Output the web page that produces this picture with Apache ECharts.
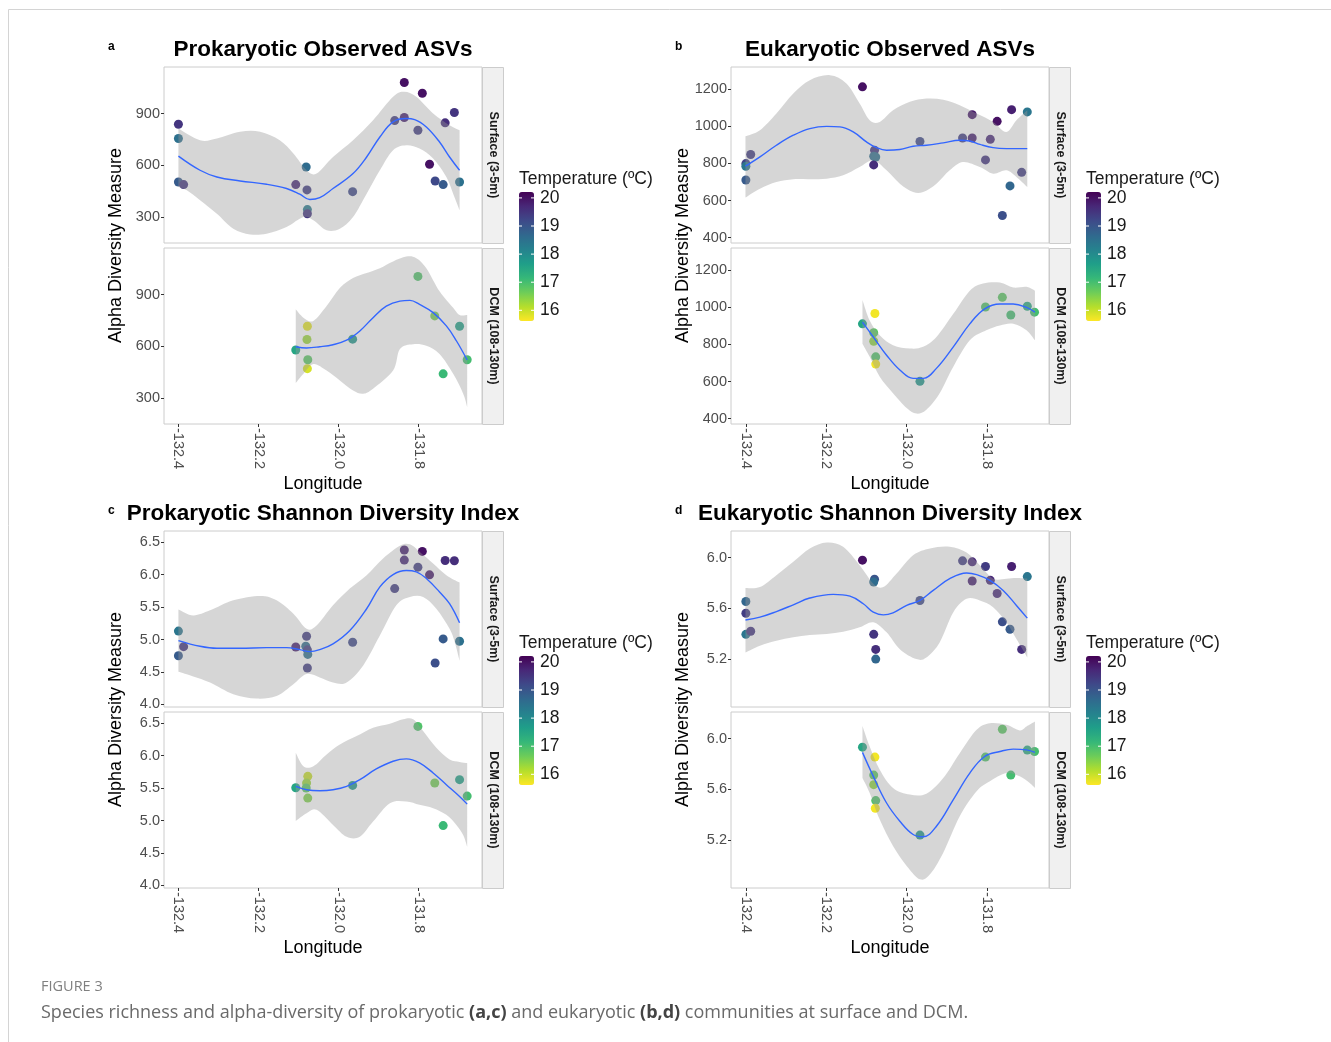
<!DOCTYPE html>
<html>
<head>
<meta charset="utf-8">
<title>Figure 3 - alpha diversity</title>
<script src="https://cdn.jsdelivr.net/npm/echarts@6/dist/echarts.min.js"></script>
<style>
  html, body { margin: 0; padding: 0; background: #fff; }
  #chart { width: 1331px; height: 1042px; }
</style>
</head>
<body>
<div id="chart"></div>
<script>
// ---- data ----
var lonTicks = [-132.4, -132.2, -132.0, -131.8];
var tempTicks = [20, 19, 18, 17, 16];
var facetNames = ['Surface (3-5m)', 'DCM (108-130m)'];

// a: prokaryotic observed ASVs
var aSurfLon = [-132.400, -132.400, -132.400, -132.387, -132.107, -132.081, -132.079, -132.078, -132.078, -131.965, -131.860, -131.836, -131.836, -131.802, -131.791, -131.773, -131.759, -131.739, -131.734, -131.711, -131.698];
var aSurfVal = [838, 755, 503, 488, 488, 590, 457, 343, 319, 447, 859, 1080, 877, 803, 1018, 606, 509, 488, 846, 906, 503];
var aSurfTemp = [19.5, 18.5, 18.9, 19.5, 19.7, 18.6, 19.4, 18.3, 19.5, 19.2, 19.4, 20.0, 19.8, 19.4, 20.0, 20.0, 19.2, 18.9, 19.6, 19.5, 18.5];
var aDcmLon = [-132.107, -132.078, -132.079, -132.077, -132.078, -131.965, -131.802, -131.760, -131.739, -131.698, -131.679];
var aDcmVal = [578, 716, 639, 522, 470, 641, 1005, 776, 440, 716, 522];
var aDcmTemp = [17.5, 15.8, 16.3, 16.8, 15.9, 17.8, 16.9, 16.6, 17.1, 17.6, 17.0];
var aSurfFit = [[-132.400, 653], [-132.346, 571], [-132.304, 532], [-132.246, 509], [-132.180, 490], [-132.130, 465], [-132.097, 432], [-132.072, 401], [-132.047, 412], [-132.014, 465], [-131.964, 552], [-131.930, 648], [-131.897, 764], [-131.864, 852], [-131.831, 871], [-131.810, 865], [-131.781, 822], [-131.748, 735], [-131.723, 648], [-131.698, 571]];
var aSurfHi = [[-132.400, 813], [-132.346, 745], [-132.304, 755], [-132.246, 794], [-132.196, 794], [-132.147, 745], [-132.113, 668], [-132.080, 571], [-132.055, 552], [-132.014, 648], [-131.964, 745], [-131.914, 861], [-131.864, 997], [-131.836, 1026], [-131.806, 997], [-131.764, 900], [-131.723, 832], [-131.698, 803]];
var aSurfLo = [[-132.400, 474], [-132.379, 455], [-132.346, 397], [-132.304, 319], [-132.263, 232], [-132.221, 199], [-132.180, 203], [-132.130, 242], [-132.088, 300], [-132.063, 281], [-132.030, 223], [-131.997, 232], [-131.964, 300], [-131.930, 435], [-131.897, 571], [-131.864, 687], [-131.831, 716], [-131.798, 697], [-131.764, 639], [-131.731, 532], [-131.714, 435], [-131.698, 339]];
var aDcmFit = [[-132.107, 597], [-132.080, 590], [-132.047, 597], [-132.014, 609], [-131.980, 635], [-131.947, 689], [-131.914, 766], [-131.881, 833], [-131.847, 862], [-131.822, 866], [-131.798, 843], [-131.764, 795], [-131.731, 718], [-131.706, 632], [-131.679, 520]];
var aDcmHi = [[-132.107, 814], [-132.088, 766], [-132.063, 747], [-132.030, 833], [-131.997, 938], [-131.964, 996], [-131.930, 1025], [-131.897, 1053], [-131.864, 1092], [-131.831, 1120], [-131.806, 1111], [-131.781, 1053], [-131.748, 919], [-131.714, 823], [-131.698, 781], [-131.679, 781]];
var aDcmLo = [[-132.107, 386], [-132.088, 440], [-132.063, 497], [-132.030, 459], [-131.997, 402], [-131.964, 344], [-131.939, 325], [-131.914, 354], [-131.864, 459], [-131.847, 584], [-131.814, 612], [-131.781, 603], [-131.748, 555], [-131.714, 440], [-131.689, 325], [-131.679, 248]];

// b: eukaryotic observed ASVs
var bSurfLon = [-132.400, -132.400, -132.400, -132.388, -132.110, -132.080, -132.082, -132.077, -132.082, -131.967, -131.861, -131.837, -131.837, -131.804, -131.792, -131.775, -131.762, -131.743, -131.739, -131.714, -131.700];
var bSurfVal = [799, 785, 711, 848, 1213, 871, 839, 835, 792, 918, 937, 1063, 937, 819, 930, 1027, 519, 679, 1090, 752, 1078];
var bSurfTemp = [19.3, 18.4, 18.9, 19.4, 20.0, 19.5, 18.6, 18.5, 19.6, 19.2, 19.4, 19.9, 19.8, 19.5, 19.7, 20.0, 19.1, 18.7, 19.8, 19.4, 18.4];
var bDcmLon = [-132.110, -132.079, -132.082, -132.082, -132.077, -132.077, -131.967, -131.804, -131.762, -131.741, -131.700, -131.682];
var bDcmVal = [911, 967, 863, 817, 733, 694, 601, 1002, 1054, 959, 1006, 974];
var bDcmTemp = [17.5, 15.7, 16.8, 16.4, 16.9, 15.7, 17.8, 16.9, 16.8, 17.0, 17.4, 17.0];
var bSurfFit = [[-132.401, 785], [-132.365, 835], [-132.324, 898], [-132.282, 952], [-132.241, 988], [-132.199, 1000], [-132.166, 997], [-132.133, 970], [-132.100, 916], [-132.075, 885], [-132.050, 871], [-132.017, 875], [-131.984, 893], [-131.951, 898], [-131.909, 911], [-131.868, 925], [-131.843, 921], [-131.818, 903], [-131.785, 885], [-131.752, 880], [-131.700, 880]];
var bSurfHi = [[-132.401, 946], [-132.365, 979], [-132.324, 1069], [-132.282, 1177], [-132.241, 1249], [-132.191, 1276], [-132.150, 1231], [-132.117, 1123], [-132.092, 1033], [-132.067, 1024], [-132.034, 1087], [-131.992, 1132], [-131.951, 1150], [-131.909, 1144], [-131.868, 1114], [-131.826, 1069], [-131.785, 1024], [-131.752, 970], [-131.727, 1033], [-131.700, 1087]];
var bSurfLo = [[-132.401, 616], [-132.365, 664], [-132.324, 700], [-132.282, 715], [-132.241, 715], [-132.199, 718], [-132.158, 736], [-132.117, 781], [-132.083, 817], [-132.050, 763], [-132.017, 691], [-131.984, 646], [-131.959, 646], [-131.926, 691], [-131.893, 763], [-131.860, 808], [-131.818, 781], [-131.785, 745], [-131.752, 763], [-131.727, 727], [-131.700, 673]];
var bDcmFit = [[-132.110, 920], [-132.083, 840], [-132.050, 742], [-132.017, 662], [-131.984, 617], [-131.959, 617], [-131.926, 671], [-131.884, 787], [-131.843, 911], [-131.806, 992], [-131.768, 1018], [-131.735, 1018], [-131.702, 1000], [-131.681, 974]];
var bDcmHi = [[-132.110, 1040], [-132.092, 929], [-132.067, 849], [-132.034, 796], [-131.992, 778], [-131.959, 787], [-131.926, 840], [-131.884, 965], [-131.843, 1090], [-131.810, 1129], [-131.768, 1134], [-131.735, 1107], [-131.702, 1111], [-131.681, 1090]];
var bDcmLo = [[-132.110, 804], [-132.092, 733], [-132.067, 626], [-132.034, 537], [-132.000, 457], [-131.976, 427], [-131.951, 448], [-131.918, 537], [-131.884, 680], [-131.843, 822], [-131.802, 876], [-131.768, 902], [-131.735, 911], [-131.702, 876], [-131.681, 822]];

// c: prokaryotic Shannon index
var cSurfLon = [-132.400, -132.400, -132.387, -132.107, -132.080, -132.082, -132.078, -132.077, -132.078, -131.965, -131.860, -131.836, -131.836, -131.802, -131.791, -131.773, -131.759, -131.739, -131.734, -131.711, -131.698];
var cSurfVal = [5.13, 4.75, 4.89, 4.885, 5.05, 4.895, 4.84, 4.77, 4.56, 4.958, 5.786, 6.381, 6.226, 6.117, 6.36, 5.998, 4.637, 5.009, 6.22, 6.215, 4.973];
var cSurfTemp = [18.4, 18.9, 19.5, 19.8, 19.4, 18.6, 19.4, 18.5, 19.4, 19.2, 19.4, 19.8, 19.7, 19.4, 20.0, 19.9, 19.1, 18.9, 19.6, 19.6, 18.5];
var cDcmLon = [-132.107, -132.077, -132.080, -132.081, -132.077, -131.965, -131.802, -131.760, -131.739, -131.698, -131.679];
var cDcmVal = [5.506, 5.682, 5.579, 5.501, 5.346, 5.542, 6.453, 5.579, 4.921, 5.630, 5.377];
var cDcmTemp = [17.5, 16.0, 16.3, 16.8, 16.5, 17.8, 16.9, 16.6, 17.1, 17.6, 17.0];
var cSurfFit = [[-132.400, 4.983], [-132.346, 4.895], [-132.304, 4.864], [-132.246, 4.864], [-132.180, 4.875], [-132.130, 4.875], [-132.097, 4.844], [-132.072, 4.813], [-132.047, 4.844], [-132.014, 4.932], [-131.972, 5.139], [-131.930, 5.475], [-131.897, 5.812], [-131.864, 6.003], [-131.831, 6.065], [-131.806, 6.045], [-131.781, 5.941], [-131.748, 5.734], [-131.723, 5.553], [-131.698, 5.258]];
var cSurfHi = [[-132.400, 5.465], [-132.363, 5.372], [-132.321, 5.45], [-132.263, 5.605], [-132.196, 5.672], [-132.155, 5.605], [-132.113, 5.398], [-132.080, 5.165], [-132.055, 5.216], [-132.014, 5.527], [-131.972, 5.786], [-131.930, 5.993], [-131.889, 6.252], [-131.847, 6.448], [-131.822, 6.469], [-131.798, 6.355], [-131.764, 6.174], [-131.731, 5.993], [-131.698, 5.879]];
var cSurfLo = [[-132.400, 4.502], [-132.363, 4.430], [-132.321, 4.336], [-132.263, 4.155], [-132.205, 4.088], [-132.155, 4.129], [-132.113, 4.31], [-132.080, 4.466], [-132.047, 4.414], [-132.014, 4.336], [-131.980, 4.336], [-131.939, 4.595], [-131.897, 5.061], [-131.856, 5.527], [-131.822, 5.656], [-131.789, 5.656], [-131.756, 5.475], [-131.723, 5.165], [-131.710, 4.958], [-131.698, 4.673]];
var cDcmFit = [[-132.107, 5.527], [-132.080, 5.475], [-132.047, 5.46], [-132.014, 5.475], [-131.980, 5.527], [-131.947, 5.630], [-131.906, 5.796], [-131.864, 5.915], [-131.831, 5.951], [-131.798, 5.889], [-131.764, 5.734], [-131.731, 5.553], [-131.698, 5.372], [-131.679, 5.253]];
var cDcmHi = [[-132.107, 6.045], [-132.088, 5.837], [-132.063, 5.837], [-132.030, 6.019], [-131.997, 6.174], [-131.955, 6.303], [-131.914, 6.433], [-131.872, 6.495], [-131.839, 6.562], [-131.814, 6.562], [-131.789, 6.381], [-131.756, 6.122], [-131.723, 5.941], [-131.698, 5.905], [-131.679, 5.889]];
var cDcmLo = [[-132.107, 4.994], [-132.080, 5.113], [-132.055, 5.165], [-132.014, 4.932], [-131.980, 4.75], [-131.947, 4.75], [-131.914, 4.983], [-131.872, 5.268], [-131.831, 5.294], [-131.798, 5.242], [-131.764, 5.19], [-131.731, 5.087], [-131.706, 4.932], [-131.689, 4.776], [-131.679, 4.595]];

// d: eukaryotic Shannon index
var dSurfLon = [-132.400, -132.400, -132.400, -132.388, -132.110, -132.080, -132.082, -132.082, -132.077, -132.077, -131.967, -131.861, -131.837, -131.837, -131.804, -131.792, -131.775, -131.762, -131.743, -131.739, -131.714, -131.700];
var dSurfVal = [5.655, 5.563, 5.397, 5.421, 5.979, 5.829, 5.808, 5.397, 5.279, 5.203, 5.663, 5.974, 5.966, 5.816, 5.929, 5.821, 5.718, 5.495, 5.437, 5.929, 5.279, 5.850];
var dSurfTemp = [18.7, 19.4, 18.4, 19.5, 20.0, 19.0, 18.6, 19.5, 19.6, 18.7, 19.2, 19.4, 19.7, 19.8, 19.4, 19.7, 19.7, 19.1, 18.9, 19.8, 19.6, 18.4];
var dDcmLon = [-132.110, -132.079, -132.082, -132.082, -132.077, -132.078, -131.967, -131.804, -131.762, -131.741, -131.700, -131.682];
var dDcmVal = [5.932, 5.854, 5.713, 5.638, 5.513, 5.453, 5.242, 5.854, 6.073, 5.713, 5.909, 5.898];
var dDcmTemp = [17.5, 15.7, 16.8, 16.4, 16.9, 15.7, 17.8, 16.9, 16.8, 17.0, 17.4, 17.0];
var dSurfFit = [[-132.401, 5.510], [-132.365, 5.532], [-132.324, 5.576], [-132.282, 5.629], [-132.241, 5.682], [-132.183, 5.711], [-132.141, 5.697], [-132.108, 5.637], [-132.083, 5.571], [-132.058, 5.55], [-132.034, 5.566], [-132.000, 5.624], [-131.967, 5.663], [-131.934, 5.742], [-131.893, 5.834], [-131.851, 5.879], [-131.826, 5.866], [-131.793, 5.821], [-131.760, 5.742], [-131.727, 5.624], [-131.700, 5.524]];
var dSurfHi = [[-132.401, 5.760], [-132.365, 5.768], [-132.324, 5.861], [-132.282, 5.966], [-132.241, 6.071], [-132.199, 6.118], [-132.158, 6.084], [-132.117, 5.939], [-132.083, 5.795], [-132.058, 5.768], [-132.025, 5.874], [-131.984, 6.018], [-131.942, 6.071], [-131.893, 6.084], [-131.851, 6.039], [-131.818, 5.939], [-131.785, 5.834], [-131.752, 5.834], [-131.727, 5.839], [-131.700, 5.834]];
var dSurfLo = [[-132.401, 5.255], [-132.365, 5.308], [-132.324, 5.347], [-132.282, 5.374], [-132.241, 5.392], [-132.199, 5.4], [-132.158, 5.418], [-132.117, 5.453], [-132.083, 5.492], [-132.050, 5.413], [-132.017, 5.281], [-131.976, 5.203], [-131.951, 5.216], [-131.918, 5.334], [-131.884, 5.571], [-131.851, 5.676], [-131.818, 5.663], [-131.785, 5.61], [-131.752, 5.492], [-131.727, 5.360], [-131.700, 5.216]];
var dDcmFit = [[-132.110, 5.891], [-132.083, 5.703], [-132.050, 5.494], [-132.017, 5.351], [-131.984, 5.247], [-131.959, 5.229], [-131.926, 5.312], [-131.884, 5.521], [-131.843, 5.729], [-131.806, 5.859], [-131.768, 5.898], [-131.735, 5.917], [-131.702, 5.911], [-131.681, 5.891]];
var dDcmHi = [[-132.110, 6.099], [-132.092, 5.937], [-132.067, 5.755], [-132.034, 5.612], [-131.992, 5.560], [-131.951, 5.567], [-131.909, 5.690], [-131.868, 5.885], [-131.826, 6.068], [-131.793, 6.120], [-131.752, 6.107], [-131.719, 6.063], [-131.702, 6.094], [-131.681, 6.133]];
var dDcmLo = [[-132.110, 5.690], [-132.092, 5.573], [-132.067, 5.364], [-132.034, 5.156], [-132.000, 5.0], [-131.967, 4.895], [-131.942, 4.934], [-131.909, 5.104], [-131.868, 5.390], [-131.826, 5.586], [-131.793, 5.664], [-131.752, 5.729], [-131.719, 5.703], [-131.694, 5.651], [-131.681, 5.612]];

// ---- layout ----
var FONT = 'Liberation Sans';
var viridis = ['#FDE725', '#B4DE2C', '#6DCD59', '#35B779', '#1F9E89', '#26828E', '#31688E', '#3E4A89', '#482878', '#440154'];
var tempMin = 15.62, tempMax = 20.21;

var panels = [
  { tag: 'a', title: 'Prokaryotic Observed ASVs', left: 164, top: 67, yMin: 149, yMax: 1170, yTicks: [300, 600, 900], dec: 0,
    xMin: -132.436, xMax: -131.642,
    facets: [[aSurfLon, aSurfVal, aSurfTemp, aSurfFit, aSurfHi, aSurfLo], [aDcmLon, aDcmVal, aDcmTemp, aDcmFit, aDcmHi, aDcmLo]] },
  { tag: 'b', title: 'Eukaryotic Observed ASVs', left: 731, top: 67, yMin: 371, yMax: 1320, yTicks: [400, 600, 800, 1000, 1200], dec: 0,
    xMin: -132.437, xMax: -131.646,
    facets: [[bSurfLon, bSurfVal, bSurfTemp, bSurfFit, bSurfHi, bSurfLo], [bDcmLon, bDcmVal, bDcmTemp, bDcmFit, bDcmHi, bDcmLo]] },
  { tag: 'c', title: 'Prokaryotic Shannon Diversity Index', left: 164, top: 531, yMin: 3.958, yMax: 6.675, yTicks: [4.0, 4.5, 5.0, 5.5, 6.0, 6.5], dec: 1,
    xMin: -132.436, xMax: -131.642,
    facets: [[cSurfLon, cSurfVal, cSurfTemp, cSurfFit, cSurfHi, cSurfLo], [cDcmLon, cDcmVal, cDcmTemp, cDcmFit, cDcmHi, cDcmLo]] },
  { tag: 'd', title: 'Eukaryotic Shannon Diversity Index', left: 731, top: 531, yMin: 4.827, yMax: 6.208, yTicks: [5.2, 5.6, 6.0], dec: 1,
    xMin: -132.437, xMax: -131.646,
    facets: [[dSurfLon, dSurfVal, dSurfTemp, dSurfFit, dSurfHi, dSurfLo], [dDcmLon, dDcmVal, dDcmTemp, dDcmFit, dDcmHi, dDcmLo]] }
];

var PW = 318, FH = 176, FGAP = 5, STRIP = 21;

// catmull-rom -> bezier segments through pixel points
function crPath(pts) {
  var d = '';
  for (var i = 0; i < pts.length - 1; i++) {
    var p0 = pts[i - 1] || pts[i], p1 = pts[i], p2 = pts[i + 1], p3 = pts[i + 2] || p2;
    d += ' C' + (p1[0] + (p2[0] - p0[0]) / 6) + ' ' + (p1[1] + (p2[1] - p0[1]) / 6) + ' ' +
      (p2[0] - (p3[0] - p1[0]) / 6) + ' ' + (p2[1] - (p3[1] - p1[1]) / 6) + ' ' + p2[0] + ' ' + p2[1];
  }
  return d;
}

var grids = [], xAxes = [], yAxes = [], series = [], visualMaps = [], graphics = [];

// figure frame
graphics.push({ type: 'line', shape: { x1: 8.5, y1: 9.5, x2: 1331, y2: 9.5 }, style: { stroke: '#d4d4d4', lineWidth: 1 } });
graphics.push({ type: 'line', shape: { x1: 8.5, y1: 9.5, x2: 8.5, y2: 1042 }, style: { stroke: '#d4d4d4', lineWidth: 1 } });

panels.forEach(function (p, pi) {
  var scatterIdx = [];
  p.facets.forEach(function (f, fi) {
    var gi = pi * 2 + fi;
    var top = p.top + fi * (FH + FGAP);
    grids.push({ left: p.left, top: top, width: PW, height: FH, show: true, borderColor: '#cccccc', borderWidth: 1,
      backgroundColor: '#fff', containLabel: false, outerBoundsMode: 'none' });
    var bottom = fi === 1;
    xAxes.push({
      gridIndex: gi, type: 'value', min: p.xMin, max: p.xMax,
      splitLine: { show: false }, axisLine: { show: false },
      axisTick: { show: bottom, length: 3, customValues: lonTicks, lineStyle: { color: '#333' } },
      axisLabel: { show: bottom, customValues: lonTicks, rotate: -90, margin: 4, fontSize: 14.5, color: '#4d4d4d', fontFamily: FONT,
        formatter: function (v) { return v.toFixed(1); } },
      name: bottom ? 'Longitude' : '', nameLocation: 'middle', nameGap: 51,
      nameTextStyle: { fontSize: 18, color: '#000', fontFamily: FONT }
    });
    yAxes.push({
      gridIndex: gi, type: 'value', min: p.yMin, max: p.yMax,
      splitLine: { show: false }, axisLine: { show: false },
      axisTick: { show: true, length: 3, customValues: p.yTicks, lineStyle: { color: '#333' } },
      axisLabel: { customValues: p.yTicks, margin: 4, fontSize: 14.5, color: '#4d4d4d', fontFamily: FONT,
        formatter: (function (dec) { return function (v) { return v.toFixed(dec); }; })(p.dec) }
    });

    var pts = f[0].map(function (lon, k) { return [lon, f[1][k], f[2][k]]; });
    scatterIdx.push(series.length);
    series.push({ type: 'scatter', xAxisIndex: gi, yAxisIndex: gi, data: pts, symbolSize: 9, z: 2,
      itemStyle: { opacity: 1 }, encode: { x: 0, y: 1 } });

    var hi = f[4], lo = f[5];
    series.push({
      type: 'custom', xAxisIndex: gi, yAxisIndex: gi, z: 3, silent: true,
      data: [hi[0]], encode: { x: 0, y: 1 },
      renderItem: function (params, api) {
        var hp = hi.map(function (d) { return api.coord(d); });
        var lp = lo.slice().reverse().map(function (d) { return api.coord(d); });
        var path = 'M' + hp[0][0] + ' ' + hp[0][1] + crPath(hp) + ' L' + lp[0][0] + ' ' + lp[0][1] + crPath(lp) + ' Z';
        return { type: 'path', shape: { pathData: path }, style: { fill: 'rgba(153,153,153,0.4)' } };
      }
    });

    series.push({ type: 'line', xAxisIndex: gi, yAxisIndex: gi, data: f[3], smooth: 0.4, showSymbol: false, z: 4,
      silent: true, lineStyle: { color: '#3366FF', width: 1.4 } });

    // facet strip
    var sx = p.left + PW;
    graphics.push({ type: 'rect', shape: { x: sx + 0.5, y: top + 0.5, width: STRIP, height: FH },
      style: { fill: '#f0f0f0', stroke: '#cccccc', lineWidth: 1 } });
    graphics.push({ type: 'text', x: sx + STRIP / 2 + 1, y: top + FH / 2, rotation: -Math.PI / 2,
      style: { text: facetNames[fi], font: 'bold 12.5px "' + FONT + '"', fill: '#1a1a1a', textAlign: 'center', textVerticalAlign: 'middle' } });
  });

  // panel letter, title, y name
  var titleY = p.top - 17;
  graphics.push({ type: 'text', x: p.left - 56, y: titleY - 3,
    style: { text: p.tag, font: 'bold 12px "' + FONT + '"', fill: '#000', textAlign: 'left', textVerticalAlign: 'middle' } });
  graphics.push({ type: 'text', x: p.left + PW / 2, y: titleY,
    style: { text: p.title, font: 'bold 22.5px "' + FONT + '"', fill: '#000', textAlign: 'center', textVerticalAlign: 'middle' } });
  graphics.push({ type: 'text', x: p.left - 48, y: p.top + FH + FGAP / 2, rotation: Math.PI / 2,
    style: { text: 'Alpha Diversity Measure', font: '18px "' + FONT + '"', fill: '#000', textAlign: 'center', textVerticalAlign: 'middle' } });

  // temperature colour bar
  var lx = p.left + PW + 37, ly = p.top + 125, lw = 15, lh = 129;
  visualMaps.push({
    type: 'continuous', show: true, seriesIndex: scatterIdx, dimension: 2,
    min: tempMin, max: tempMax, calculable: false, hoverLink: false, text: null,
    itemWidth: lw, itemHeight: lh, left: lx, top: ly, padding: 0,
    inRange: { color: viridis }
  });
  graphics.push({ type: 'text', x: lx, y: ly - 13,
    style: { text: 'Temperature (\u00baC)', font: '17.5px "' + FONT + '"', fill: '#1a1a1a', textAlign: 'left', textVerticalAlign: 'middle' } });
  tempTicks.forEach(function (t) {
    var ty = ly + (tempMax - t) / (tempMax - tempMin) * lh;
    graphics.push({ type: 'text', x: lx + lw + 6, y: ty,
      style: { text: String(t), font: '17.5px "' + FONT + '"', fill: '#1a1a1a', textAlign: 'left', textVerticalAlign: 'middle' } });
    graphics.push({ type: 'line', z: 100, shape: { x1: lx, y1: ty, x2: lx + 3, y2: ty }, style: { stroke: '#fff', lineWidth: 1 } });
    graphics.push({ type: 'line', z: 100, shape: { x1: lx + lw - 3, y1: ty, x2: lx + lw, y2: ty }, style: { stroke: '#fff', lineWidth: 1 } });
  });
});

// caption
graphics.push({ type: 'text', x: 41, y: 987,
  style: { text: 'FIGURE 3', font: '14.5px "Open Sans"', fill: '#808080', textAlign: 'left', textVerticalAlign: 'middle' } });
graphics.push({ type: 'text', x: 41, y: 1013,
  style: {
    text: '{n|Species richness and alpha-diversity of prokaryotic }{b|(a,c)}{n| and eukaryotic }{b|(b,d)}{n| communities at surface and DCM.}',
    textAlign: 'left', textVerticalAlign: 'middle',
    rich: {
      n: { font: '18px "Open Sans"', fill: '#6a6a6a' },
      b: { font: 'bold 18px "Open Sans"', fill: '#444444' }
    }
  } });

var chart = echarts.init(document.getElementById('chart'), null, { renderer: 'canvas' });
chart.setOption({
  animation: false,
  backgroundColor: '#fff',
  textStyle: { fontFamily: FONT },
  grid: grids,
  xAxis: xAxes,
  yAxis: yAxes,
  visualMap: visualMaps,
  series: series,
  graphic: { elements: graphics }
});
</script>
</body>
</html>
